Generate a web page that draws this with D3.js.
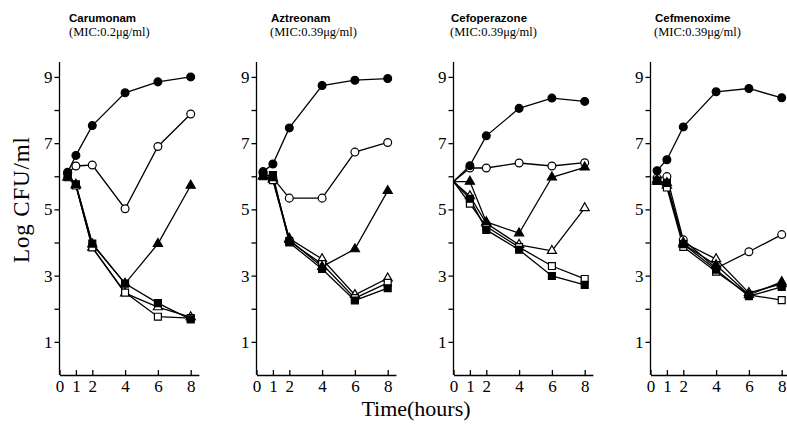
<!DOCTYPE html>
<html><head><meta charset="utf-8">
<script src="https://cdn.jsdelivr.net/npm/d3@7"></script>
<style>
html,body{margin:0;padding:0;background:#fff;}
svg{display:block;}
</style></head>
<body>
<svg id="chart" width="787" height="424"></svg>
<script>
// ---- data ----
const drugs = ["Carumonam", "Aztreonam", "Cefoperazone", "Cefmenoxime"];
const micLabels = ["(MIC:0.2\u03bcg/ml)", "(MIC:0.39\u03bcg/ml)", "(MIC:0.39\u03bcg/ml)", "(MIC:0.39\u03bcg/ml)"];
const times = [
  [0.5, 1, 2, 4, 6, 8],
  [0.4, 1, 2, 4, 6, 8],
  [0, 1, 2, 4, 6, 8],
  [0.4, 1, 2, 4, 6, 8]
];
const markerAtStart = [true, true, false, true];
const xTickValues = [0, 1, 2, 4, 6, 8];
const yTickValues = [1, 2, 3, 4, 5, 6, 7, 8, 9];
const yTickLabels = [1, 3, 5, 7, 9];
const seriesKinds = ["openCircle", "openTriangle", "openSquare", "filledTriangle", "filledSquare", "filledCircle"];

// values per panel per series (Log CFU/ml)
const filledCircle = [
  [6.12, 6.63, 7.53, 8.52, 8.85, 9.0],
  [6.14, 6.37, 7.46, 8.74, 8.9, 8.95],
  [5.84, 6.32, 7.22, 8.05, 8.36, 8.26],
  [6.17, 6.5, 7.49, 8.55, 8.65, 8.37]
];
const openCircle = [
  [6.1, 6.31, 6.34, 5.02, 6.9, 7.88],
  [6.1, 5.95, 5.34, 5.34, 6.73, 7.02],
  [5.84, 6.25, 6.25, 6.4, 6.31, 6.41],
  [5.95, 5.99, 4.08, 3.22, 3.72, 4.24]
];
const filledTriangle = [
  [5.97, 5.75, 3.95, 2.76, 3.96, 5.72],
  [6.0, 5.95, 4.08, 3.27, 3.8, 5.56],
  [5.84, 5.84, 4.62, 4.28, 5.97, 6.27],
  [5.84, 5.8, 3.95, 3.32, 2.42, 2.81]
];
const openTriangle = [
  [5.97, 5.72, 3.85, 2.47, 2.05, 1.75],
  [6.0, 5.9, 4.12, 3.5, 2.42, 2.92],
  [5.84, 5.4, 4.58, 3.93, 3.75, 5.04],
  [5.9, 5.72, 4.0, 3.5, 2.48, 2.75]
];
const openSquare = [
  [5.97, 5.72, 3.85, 2.49, 1.76, 1.72],
  [6.0, 5.88, 4.04, 3.35, 2.32, 2.78],
  [5.84, 5.17, 4.48, 3.86, 3.29, 2.9],
  [5.86, 5.66, 3.87, 3.12, 2.42, 2.26]
];
const filledSquare = [
  [6.0, 5.76, 3.97, 2.76, 2.17, 1.68],
  [6.02, 6.04, 4.0, 3.2, 2.25, 2.62],
  [5.84, 5.32, 4.38, 3.78, 2.99, 2.72],
  [5.86, 5.8, 3.95, 3.18, 2.38, 2.66]
];
const seriesData = { filledCircle, openCircle, filledTriangle, openTriangle, openSquare, filledSquare };

// ---- layout ----
const panelOrigins = [59.5, 256.5, 453.5, 650.5];
const hourPx = 16.4;
const yTop = 62, yBottom = 375;

const svg = d3.select("#chart");
const serif = "'Liberation Serif', 'Times New Roman', serif";
const sans = "'Liberation Sans', Arial, sans-serif";

const y = d3.scaleLinear().domain([0, 9.45]).range([yBottom, yTop]);

const symType = k => k.endsWith("Circle") ? d3.symbolCircle : (k.endsWith("Square") ? d3.symbolSquare : d3.symbolTriangle);
const symSize = k => k.endsWith("Circle") ? 48 : (k.endsWith("Square") ? 48 : 36);

drugs.forEach((drug, p) => {
  const x0 = panelOrigins[p];
  const x = d3.scaleLinear().domain([0, 8.5]).range([x0, x0 + 8.5 * hourPx]);
  const g = svg.append("g");

  // y axis
  const ya = g.append("g").attr("transform", `translate(${x0},0)`)
    .call(d3.axisLeft(y).tickValues(yTickValues).tickSizeInner(5).tickSizeOuter(0).tickPadding(2)
      .tickFormat(d => yTickLabels.includes(d) ? d : ""));
  ya.select(".domain").attr("d", `M0,${yTop}V${yBottom}`);
  ya.selectAll("text").attr("font-family", serif).attr("font-size", 17).attr("fill", "#000");
  ya.selectAll("line,path").attr("stroke", "#000").attr("stroke-width", 1.3);

  // x axis
  const xa = g.append("g").attr("transform", `translate(0,${yBottom})`)
    .call(d3.axisBottom(x).tickValues(xTickValues).tickSizeInner(-5).tickSizeOuter(0).tickPadding(5)
      .tickFormat(d3.format("d")));
  xa.selectAll("text").attr("font-family", serif).attr("font-size", 17).attr("fill", "#000");
  xa.selectAll("line,path").attr("stroke", "#000").attr("stroke-width", 1.3);

  // titles
  g.append("text").attr("x", [69, 271, 451, 655][p]).attr("y", 22)
    .attr("font-family", sans).attr("font-size", 11.5).attr("font-weight", "bold").text(drug);
  g.append("text").attr("x", [69, 270, 450, 654][p]).attr("y", 35.5)
    .attr("font-family", serif).attr("font-size", 12.5).text(micLabels[p]);

  const line = d3.line().x((d, i) => x(times[p][i])).y(d => y(d));
  seriesKinds.forEach(k => {
    g.append("path").datum(seriesData[k][p]).attr("d", line)
      .attr("fill", "none").attr("stroke", "#000").attr("stroke-width", 1.3);
  });
  seriesKinds.forEach(k => {
    const filled = k.startsWith("filled");
    g.selectAll(null).data(seriesData[k][p].map((v, i) => [times[p][i], v, i]))
      .enter().filter(d => markerAtStart[p] || d[2] > 0)
      .append("path")
      .attr("d", d3.symbol().type(symType(k)).size(symSize(k)))
      .attr("transform", d => `translate(${x(d[0])},${y(d[1])})`)
      .attr("fill", filled ? "#000" : "#fff").attr("stroke", "#000").attr("stroke-width", 1.2);
  });
});

// shared axis titles
svg.append("text").attr("transform", "translate(29,200) rotate(-90)")
  .attr("text-anchor", "middle").attr("font-family", serif).attr("font-size", 23)
  .attr("textLength", 126).text("Log CFU/ml");
svg.append("text").attr("x", 416).attr("y", 416)
  .attr("text-anchor", "middle").attr("font-family", serif).attr("font-size", 22)
  .text("Time(hours)");
</script>
</body></html>
